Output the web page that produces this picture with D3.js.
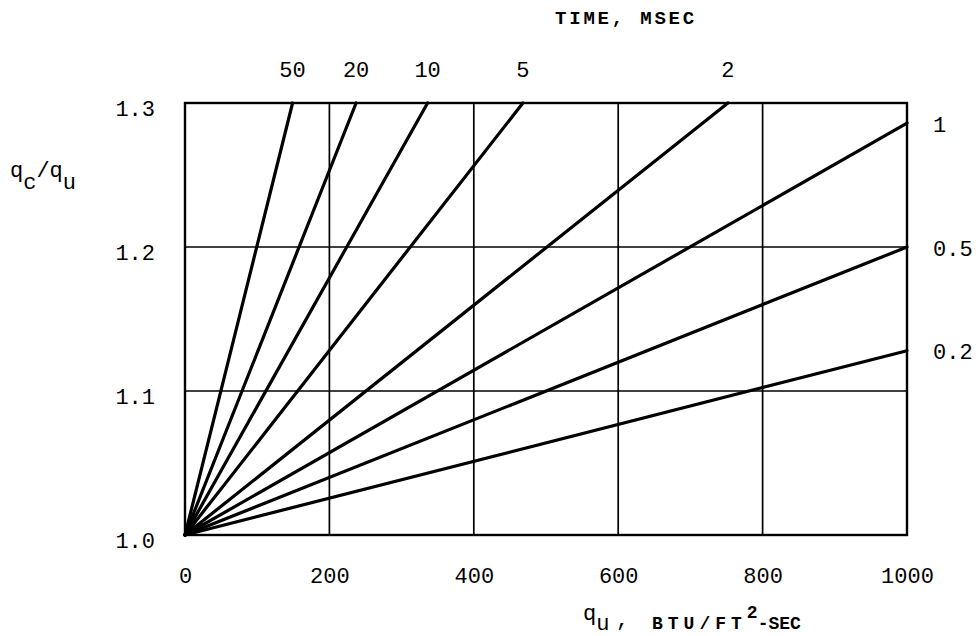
<!DOCTYPE html>
<html>
<head>
<meta charset="utf-8">
<script src="https://cdn.jsdelivr.net/npm/d3@7"></script>
<style>
  html, body { margin: 0; padding: 0; background: #fff; }
  svg { display: block; }
  text { fill: #000; }
</style>
</head>
<body>
<svg id="chart" width="978" height="636"></svg>
<script>
// ---- data ----
const timeLabels = ["50", "20", "10", "5", "2", "1", "0.5", "0.2"];   // msec
const qEnd       = [149, 237, 336, 468, 752, 1000, 1000, 1000];        // BTU/ft^2-sec at line end
const ratioEnd   = [1.3, 1.3, 1.3, 1.3, 1.3, 1.286, 1.2, 1.128];       // qc/qu at line end
const qStart = 0, ratioStart = 1.0;

const xTicks = [0, 200, 400, 600, 800, 1000];
const xTickLabels = ["0", "200", "400", "600", "800", "1000"];
const yTicks = [1.0, 1.1, 1.2, 1.3];
const yTickLabels = ["1.0", "1.1", "1.2", "1.3"];
const xGrid = [200, 400, 600, 800];
const yGrid = [1.1, 1.2];

// ---- layout ----
const L = 185, R = 907, T = 103, B = 535;
const mono = "'Liberation Mono', 'DejaVu Sans Mono', monospace";

const svg = d3.select("#chart");
const x = d3.scaleLinear().domain([0, 1000]).range([L, R]);
const y = d3.scaleLinear().domain([1.0, 1.3]).range([B, T]);

// grid
const g = svg.append("g");
g.selectAll("line.vg").data(xGrid).join("line")
  .attr("x1", d => x(d)).attr("x2", d => x(d))
  .attr("y1", y(1.0)).attr("y2", y(1.3))
  .attr("stroke", "#000").attr("stroke-width", 1.7);
g.selectAll("line.hg").data(yGrid).join("line")
  .attr("y1", d => y(d)).attr("y2", d => y(d))
  .attr("x1", x(0)).attr("x2", x(1000))
  .attr("stroke", "#000").attr("stroke-width", 1.7);

// frame
svg.append("rect")
  .attr("x", x(0)).attr("y", y(1.3))
  .attr("width", x(1000) - x(0)).attr("height", y(1.0) - y(1.3))
  .attr("fill", "none").attr("stroke", "#000").attr("stroke-width", 2.4);

// series lines
const series = timeLabels.map((t, i) => ({
  label: t,
  pts: [[qStart, ratioStart], [qEnd[i], ratioEnd[i]]]
}));
const line = d3.line().x(d => x(d[0])).y(d => y(d[1]));
svg.append("g").selectAll("path").data(series).join("path")
  .attr("d", d => line(d.pts))
  .attr("fill", "none").attr("stroke", "#000")
  .attr("stroke-width", 3.2).attr("stroke-linecap", "round");

// time labels
series.forEach(s => {
  const end = s.pts[1];
  if (end[1] >= 1.3) {
    svg.append("text")
      .attr("x", x(end[0])).attr("y", 77)
      .attr("text-anchor", "middle")
      .style("font-family", mono).style("font-size", "22px")
      .text(s.label);
  } else {
    svg.append("text")
      .attr("x", 933).attr("y", y(end[1]) + 3)
      .attr("dominant-baseline", "central")
      .style("font-family", mono).style("font-size", "22px")
      .text(s.label);
  }
});

// axes
const xAxis = d3.axisBottom(x).tickValues(xTicks)
  .tickFormat((d, i) => xTickLabels[i]).tickSize(0).tickPadding(32);
const gx = svg.append("g").attr("transform", `translate(0,${B})`).call(xAxis);
gx.select(".domain").remove();
gx.selectAll("text").style("font-family", mono).style("font-size", "22px").attr("fill", "#000");

const yAxis = d3.axisLeft(y).tickValues(yTicks)
  .tickFormat((d, i) => yTickLabels[i]).tickSize(0).tickPadding(30);
const gy = svg.append("g").attr("transform", `translate(${L},0)`).call(yAxis);
gy.select(".domain").remove();
gy.selectAll("text").style("font-family", mono).style("font-size", "22px")
  .attr("dy", "0.55em").attr("fill", "#000");

// title
svg.append("text")
  .attr("x", 555).attr("y", 24)
  .style("font-family", mono).style("font-size", "19px").style("font-weight", "bold")
  .style("letter-spacing", "2.8px")
  .text("TIME, MSEC");

// y axis label qc/qu
const yl = svg.append("text").attr("x", 10).attr("y", 177)
  .style("font-family", mono).style("font-size", "22px");
yl.append("tspan").text("q");
yl.append("tspan").attr("dy", 12).text("c");
yl.append("tspan").attr("dy", -12).text("/q");
yl.append("tspan").attr("dy", 12).text("u");

// x axis label
const xl = svg.append("text").attr("x", 583).attr("y", 620)
  .style("font-family", mono).style("font-size", "22px");
xl.append("tspan").text("q");
xl.append("tspan").attr("dy", 10).text("u");
svg.append("text").attr("x", 616).attr("y", 626)
  .style("font-family", mono).style("font-size", "22px").text(",");
const xb = svg.append("text").attr("x", 652).attr("y", 629)
  .style("font-family", mono).style("font-size", "18px").style("font-weight", "bold");
xb.append("tspan").style("letter-spacing", "5px").text("BTU/FT");
xb.append("tspan").attr("dy", -11).style("letter-spacing", "0px").text("2");
xb.append("tspan").attr("dy", 11).style("letter-spacing", "0px").text("-SEC");
</script>
</body>
</html>
